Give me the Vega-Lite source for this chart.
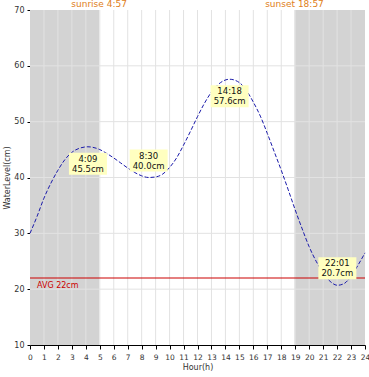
{
  "$schema": "https://vega.github.io/schema/vega-lite/v6.json",
  "width": 335,
  "height": 335,
  "autosize": "none",
  "padding": {"left": 30, "top": 10, "right": 4, "bottom": 32},
  "background": "white",
  "config": {
    "view": {"stroke": null},
    "font": "DejaVu Sans",
    "axisX": {"labelOverlap": false, "labelFlush": false, "grid": false, "domainColor": "#000", "tickColor": "#000", "tickSize": 4,
      "labelFontSize": 7.5, "labelColor": "#333", "labelPadding": 4,
      "titleFontSize": 8, "titleFontWeight": "normal", "titleColor": "#333", "titlePadding": 3},
    "axisY": {"labelOverlap": false, "labelFlush": false, "grid": false, "domain": false, "tickColor": "#000", "tickSize": 3,
      "labelFontSize": 8, "labelColor": "#333", "labelPadding": 3,
      "titleFontSize": 8, "titleFontWeight": "normal", "titleColor": "#333", "titlePadding": 2}
  },
  "datasets": {
    "tide": [
      {"hour": 0, "level": 30.0}, {"hour": 0.5, "level": 33.0}, {"hour": 1, "level": 36.3},
      {"hour": 1.5, "level": 39.0}, {"hour": 2, "level": 41.3}, {"hour": 2.5, "level": 43.2},
      {"hour": 3, "level": 44.5}, {"hour": 3.5, "level": 45.2}, {"hour": 4.15, "level": 45.5},
      {"hour": 5, "level": 45.0}, {"hour": 5.5, "level": 44.3}, {"hour": 6, "level": 43.5},
      {"hour": 6.5, "level": 42.6}, {"hour": 7, "level": 41.7}, {"hour": 7.5, "level": 40.9},
      {"hour": 8, "level": 40.3}, {"hour": 8.5, "level": 40.0}, {"hour": 9, "level": 40.1},
      {"hour": 9.5, "level": 40.6}, {"hour": 10, "level": 41.8}, {"hour": 10.5, "level": 43.5},
      {"hour": 11, "level": 45.8}, {"hour": 11.5, "level": 48.3}, {"hour": 12, "level": 50.9},
      {"hour": 12.5, "level": 53.3}, {"hour": 13, "level": 55.3}, {"hour": 13.5, "level": 56.7},
      {"hour": 14.3, "level": 57.6}, {"hour": 15, "level": 57.0}, {"hour": 15.5, "level": 55.6},
      {"hour": 16, "level": 53.5}, {"hour": 16.5, "level": 51.0}, {"hour": 17, "level": 47.9},
      {"hour": 17.5, "level": 44.6}, {"hour": 18, "level": 41.3}, {"hour": 18.5, "level": 37.8},
      {"hour": 19, "level": 34.2}, {"hour": 19.5, "level": 30.8}, {"hour": 20, "level": 27.6},
      {"hour": 20.5, "level": 25.0}, {"hour": 21, "level": 22.9}, {"hour": 21.5, "level": 21.4},
      {"hour": 22.02, "level": 20.7}, {"hour": 22.5, "level": 21.0}, {"hour": 23, "level": 22.3},
      {"hour": 23.5, "level": 24.3}, {"hour": 24, "level": 26.5}
    ],
    "night": [
      {"start": 0, "end": 4.95},
      {"start": 18.95, "end": 24}
    ],
    "sun": [
      {"hour": 4.95, "label": "sunrise 4:57"},
      {"hour": 18.95, "label": "sunset 18:57"}
    ],
    "extrema": [
      {"hour": 4.15, "level": 45.5, "kind": "high", "label": "4:09\n45.5cm"},
      {"hour": 8.5, "level": 40.0, "kind": "low", "label": "8:30\n40.0cm"},
      {"hour": 14.3, "level": 57.6, "kind": "high", "label": "14:18\n57.6cm"},
      {"hour": 22.02, "level": 20.7, "kind": "low", "label": "22:01\n20.7cm"}
    ],
    "vgrid": [
      {"h": 1}, {"h": 2}, {"h": 3}, {"h": 4}, {"h": 5}, {"h": 6}, {"h": 7}, {"h": 8},
      {"h": 9}, {"h": 10}, {"h": 11}, {"h": 12}, {"h": 13}, {"h": 14}, {"h": 15}, {"h": 16},
      {"h": 17}, {"h": 18}, {"h": 19}, {"h": 20}, {"h": 21}, {"h": 22}, {"h": 23}
    ],
    "hgrid": [{"v": 20}, {"v": 30}, {"v": 40}, {"v": 50}, {"v": 60}],
    "avg": [{"v": 22, "label": "AVG 22cm"}]
  },
  "encoding": {
    "x": {"type": "quantitative", "scale": {"domain": [0, 24], "nice": false},
      "axis": {"title": "Hour(h)", "values": [0,1,2,3,4,5,6,7,8,9,10,11,12,13,14,15,16,17,18,19,20,21,22,23,24]}},
    "y": {"type": "quantitative", "scale": {"domain": [10, 70], "nice": false},
      "axis": {"title": "WaterLevel(cm)", "values": [10,20,30,40,50,60,70]}}
  },
  "layer": [
    {
      "data": {"name": "night"},
      "mark": {"type": "rect", "color": "#d3d3d3"},
      "encoding": {
        "x": {"field": "start", "type": "quantitative", "scale": {"domain": [0, 24], "nice": false},
          "axis": {"title": "Hour(h)", "values": [0,1,2,3,4,5,6,7,8,9,10,11,12,13,14,15,16,17,18,19,20,21,22,23,24]}},
        "x2": {"field": "end"},
        "y": null
      }
    },
    {
      "data": {"name": "vgrid"},
      "mark": {"type": "rule", "color": "#e2e2e2", "strokeWidth": 1},
      "encoding": {
        "x": {"field": "h", "type": "quantitative", "axis": {"title": "Hour(h)", "values": [0,1,2,3,4,5,6,7,8,9,10,11,12,13,14,15,16,17,18,19,20,21,22,23,24]}},
        "y": null
      }
    },
    {
      "data": {"name": "hgrid"},
      "mark": {"type": "rule", "color": "#e2e2e2", "strokeWidth": 1},
      "encoding": {
        "y": {"field": "v", "type": "quantitative", "axis": {"title": "WaterLevel(cm)", "values": [10,20,30,40,50,60,70]}},
        "x": null
      }
    },
    {
      "data": {"name": "avg"},
      "mark": {"type": "rule", "color": "#cc0000", "strokeWidth": 1.2},
      "encoding": {"y": {"field": "v", "type": "quantitative", "axis": {"title": "WaterLevel(cm)", "values": [10,20,30,40,50,60,70]}}, "x": null}
    },
    {
      "data": {"name": "avg"},
      "mark": {"type": "text", "color": "#cc0000", "fontSize": 8, "align": "left", "baseline": "top", "dy": 4},
      "encoding": {
        "y": {"field": "v", "type": "quantitative", "axis": {"title": "WaterLevel(cm)", "values": [10,20,30,40,50,60,70]}},
        "x": {"datum": 0.5},
        "text": {"field": "label"}
      }
    },
    {
      "data": {"name": "tide"},
      "mark": {"type": "line", "color": "#1a1aaa", "strokeWidth": 1, "strokeDash": [4, 2], "interpolate": "monotone"},
      "encoding": {
        "x": {"field": "hour", "type": "quantitative", "axis": {"title": "Hour(h)", "values": [0,1,2,3,4,5,6,7,8,9,10,11,12,13,14,15,16,17,18,19,20,21,22,23,24]}},
        "y": {"field": "level", "type": "quantitative", "axis": {"title": "WaterLevel(cm)", "values": [10,20,30,40,50,60,70]}}
      }
    },
    {
      "data": {"name": "extrema"},
      "transform": [{"filter": "datum.kind == 'high'"}],
      "mark": {"type": "point", "shape": "M-1,-0.58H1V0.58H-1Z", "size": 1444, "filled": true, "color": "#ffffc0", "opacity": 1, "yOffset": 17},
      "encoding": {
        "x": {"field": "hour", "type": "quantitative", "axis": {"title": "Hour(h)", "values": [0,1,2,3,4,5,6,7,8,9,10,11,12,13,14,15,16,17,18,19,20,21,22,23,24]}},
        "y": {"field": "level", "type": "quantitative", "axis": {"title": "WaterLevel(cm)", "values": [10,20,30,40,50,60,70]}}
      }
    },
    {
      "data": {"name": "extrema"},
      "transform": [{"filter": "datum.kind == 'low'"}],
      "mark": {"type": "point", "shape": "M-1,-0.58H1V0.58H-1Z", "size": 1444, "filled": true, "color": "#ffffc0", "opacity": 1, "yOffset": -17},
      "encoding": {
        "x": {"field": "hour", "type": "quantitative", "axis": {"title": "Hour(h)", "values": [0,1,2,3,4,5,6,7,8,9,10,11,12,13,14,15,16,17,18,19,20,21,22,23,24]}},
        "y": {"field": "level", "type": "quantitative", "axis": {"title": "WaterLevel(cm)", "values": [10,20,30,40,50,60,70]}}
      }
    },
    {
      "data": {"name": "extrema"},
      "transform": [{"filter": "datum.kind == 'high'"}],
      "mark": {"type": "text", "fontSize": 8.5, "color": "#111", "lineBreak": "\n", "align": "center", "baseline": "middle", "lineHeight": 10, "yOffset": 12},
      "encoding": {
        "x": {"field": "hour", "type": "quantitative", "axis": {"title": "Hour(h)", "values": [0,1,2,3,4,5,6,7,8,9,10,11,12,13,14,15,16,17,18,19,20,21,22,23,24]}},
        "y": {"field": "level", "type": "quantitative", "axis": {"title": "WaterLevel(cm)", "values": [10,20,30,40,50,60,70]}},
        "text": {"field": "label"}
      }
    },
    {
      "data": {"name": "extrema"},
      "transform": [{"filter": "datum.kind == 'low'"}],
      "mark": {"type": "text", "fontSize": 8.5, "color": "#111", "lineBreak": "\n", "align": "center", "baseline": "middle", "lineHeight": 10, "yOffset": -22},
      "encoding": {
        "x": {"field": "hour", "type": "quantitative", "axis": {"title": "Hour(h)", "values": [0,1,2,3,4,5,6,7,8,9,10,11,12,13,14,15,16,17,18,19,20,21,22,23,24]}},
        "y": {"field": "level", "type": "quantitative", "axis": {"title": "WaterLevel(cm)", "values": [10,20,30,40,50,60,70]}},
        "text": {"field": "label"}
      }
    },
    {
      "data": {"name": "sun"},
      "mark": {"type": "text", "color": "#e08020", "fontSize": 9, "align": "center", "baseline": "bottom", "dy": -1},
      "encoding": {
        "x": {"field": "hour", "type": "quantitative", "axis": {"title": "Hour(h)", "values": [0,1,2,3,4,5,6,7,8,9,10,11,12,13,14,15,16,17,18,19,20,21,22,23,24]}},
        "y": {"datum": 70},
        "text": {"field": "label"}
      }
    }
  ]
}
